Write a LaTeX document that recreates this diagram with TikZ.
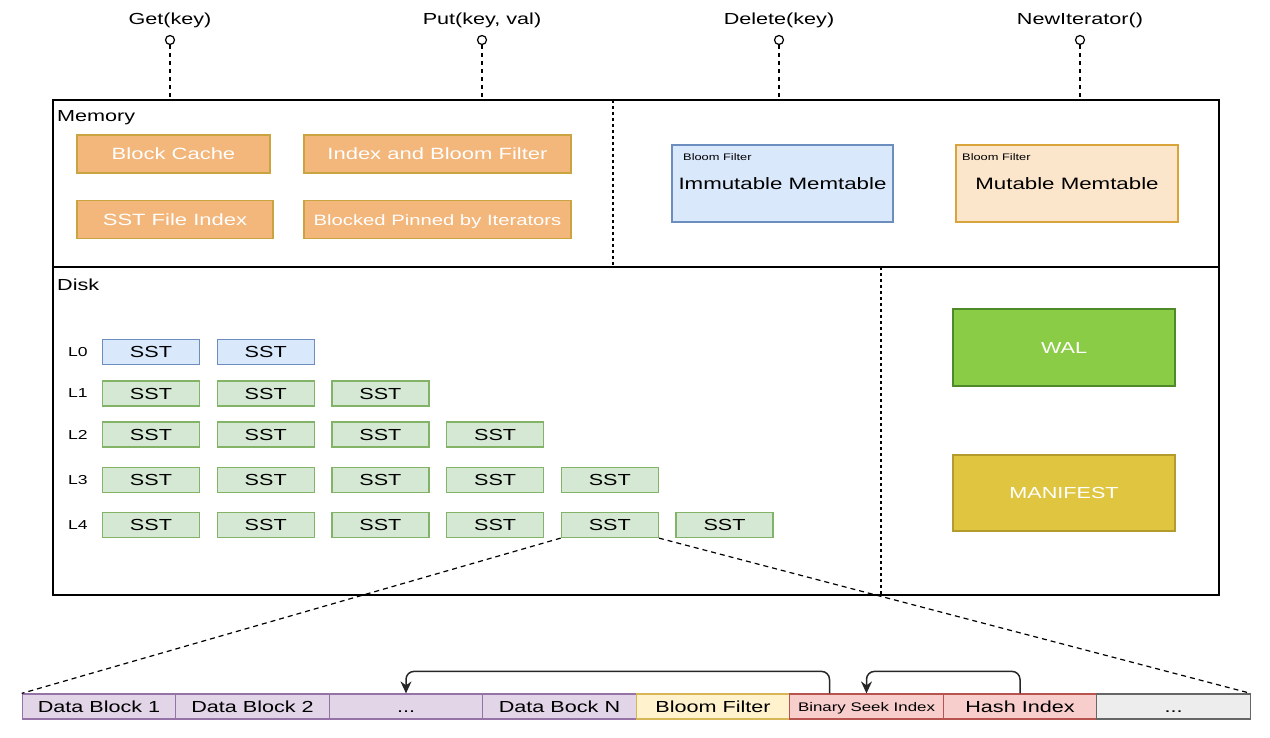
\documentclass[tikz,border=0pt]{standalone}
\usepackage{fontspec}
\setmainfont{Liberation Sans}[FakeStretch=1.35]
\usetikzlibrary{arrows.meta}
\definecolor{orfill}{HTML}{F3B67B}
\definecolor{ordraw}{HTML}{C9A441}
\definecolor{blfill}{HTML}{DAE8FC}
\definecolor{bldraw}{HTML}{6C8EBF}
\definecolor{mufill}{HTML}{FBE6CC}
\definecolor{mudraw}{HTML}{D9A43A}
\definecolor{grfill}{HTML}{D5E8D4}
\definecolor{grdraw}{HTML}{82B366}
\definecolor{walfill}{HTML}{8BCC47}
\definecolor{waldraw}{HTML}{4F8A2A}
\definecolor{mffill}{HTML}{E0C640}
\definecolor{mfdraw}{HTML}{B39B2E}
\definecolor{pufill}{HTML}{E1D5E7}
\definecolor{pudraw}{HTML}{9673A6}
\definecolor{yefill}{HTML}{FFF2CC}
\definecolor{yedraw}{HTML}{D6B656}
\definecolor{refill}{HTML}{F8CECC}
\definecolor{redraw}{HTML}{B85450}
\definecolor{gyfill}{HTML}{EDEDED}
\definecolor{gydraw}{HTML}{666666}
\tikzset{
  fs/.style={font=\fontsize{#1}{#1}\selectfont},
  bx/.style={draw, rectangle, inner sep=0pt, line width=1.2pt},
  orbox/.style={bx, fill=orfill, draw=ordraw, text=white, minimum height=38, text height=11.5, text depth=0},
  sstbox/.style={bx, fill=grfill, draw=grdraw, minimum width=97, minimum height=25, fs=16},
  sst0box/.style={sstbox, fill=blfill, draw=bldraw},
  cell/.style={bx, minimum width=153.5, minimum height=25, fs=16, text height=12, text depth=0},
  api/.style={fs=16, inner sep=0pt},
  port/.style={draw, circle, inner sep=0pt, minimum size=9, line width=1.2pt},
  apiline/.style={dash pattern=on 4pt off 4pt, line width=1.5pt},
  divline/.style={dash pattern=on 3pt off 3pt, line width=1.6pt},
  arr/.style={line width=1.5pt, draw=black!85, rounded corners=8, -{Stealth[length=12pt,width=11pt]}},
}

\begin{document}

\begin{tikzpicture}[x=1pt,y=-1pt]
\useasboundingbox (0,0) rectangle (1270,738);
% API
\foreach \n/\x/\t in {g/170/Get(key), p/482/{Put(key, val)}, d/779/Delete(key), i/1080/NewIterator()}{
  \node[api] (t\n) at (\x,20) {\t};
  \node[port] (c\n) at (\x,40) {};
}
% main box
\node[draw, rectangle, line width=1.6pt, minimum width=1166, minimum height=495, inner sep=0pt] (main) at (636,347.5) {};
\coordinate (ml) at (53,267);
\coordinate (mr) at (1219,267);
\draw[line width=1.6pt] (ml) -- (mr);
\foreach \n in {g,p,d,i}{\draw[apiline] (c\n.south) -- (c\n |- main.north);}
\coordinate (mdt) at (613,100);
\coordinate (mdb) at (613,267);
\draw[divline] (mdt) -- (mdb);
\coordinate (ddt) at (881,267);
\coordinate (ddb) at (881,595);
\draw[divline] (ddt) -- (ddb);
\node[fs=16, anchor=west, inner sep=0pt] (memlbl) at (57,118) {Memory};
\node[fs=16, anchor=west, inner sep=0pt] (disklbl) at (57,285) {Disk};
% memory boxes
\node[orbox, minimum width=193, fs=16.3] (bc) at (173.5,154) {Block Cache};
\node[orbox, minimum width=267, fs=16.3] (ibf) at (437.5,154) {Index and Bloom Filter};
\node[orbox, minimum width=196, fs=16.3] (sfi) at (175,219.5) {SST File Index};
\node[orbox, minimum width=267, fs=15] (bpi) at (437.5,219.5) {Blocked Pinned by Iterators};
\node[bx, fill=blfill, draw=bldraw, minimum width=221, minimum height=77, fs=16.5] (imm) at (782.5,183.5) {Immutable Memtable};
\node[fs=9.5, anchor=west, inner sep=0pt] (imbf) at (683,157) {Bloom Filter};
\node[bx, fill=mufill, draw=mudraw, minimum width=222, minimum height=77, fs=16.5] (mut) at (1067,183.5) {Mutable Memtable};
\node[fs=9.5, anchor=west, inner sep=0pt] (mubf) at (962,157) {Bloom Filter};
% WAL, MANIFEST
\node[bx, fill=walfill, draw=waldraw, minimum width=222, minimum height=77, text=white, fs=16] (wal) at (1064,347.5) {WAL};
\node[bx, fill=mffill, draw=mfdraw, minimum width=222, minimum height=76, text=white, fs=16] (mf) at (1064,493) {MANIFEST};
% levels
\foreach \r/\y/\k in {0/352/2, 1/393.5/3, 2/434.5/4, 3/480/5, 4/525/6}{
  \node[fs=13, inner sep=0pt] (L\r) at (78,\y) {L\r};
  \foreach \c in {1,...,\k}{
    \ifnum\r=0
      \node[sst0box] (s\r-\c) at ({151+(\c-1)*114.7},\y) {SST};
    \else
      \node[sstbox] (s\r-\c) at ({151+(\c-1)*114.7},\y) {SST};
    \fi
  }
}
% bottom strip
\node[cell, fill=pufill, draw=pudraw] (db1) at (99,706.5) {Data Block 1};
\node[cell, fill=pufill, draw=pudraw] (db2) at (252.5,706.5) {Data Block 2};
\node[cell, fill=pufill, draw=pudraw] (dbd) at (406,706.5) {...};
\node[cell, fill=pufill, draw=pudraw] (dbn) at (559.5,706.5) {Data Bock N};
\node[cell, fill=yefill, draw=yedraw] (bf) at (713,706.5) {Bloom Filter};
\node[cell, fill=refill, draw=redraw, fs=12.5, text height=9, text depth=0] (bsi) at (866.5,706.5) {Binary Seek Index};
\node[cell, fill=refill, draw=redraw] (hi) at (1020,706.5) {Hash Index};
\node[cell, fill=gyfill, draw=gydraw] (etc) at (1173.5,706.5) {...};
% zoom lines
\draw[dash pattern=on 5pt off 4pt, line width=1.2pt] (s4-5.south west) -- (db1.north west);
\draw[dash pattern=on 5pt off 4pt, line width=1.2pt] (s4-5.south east) -- (etc.north east);
% arrows
\draw[arr] ([xshift=-37]bsi.north) |- ([yshift=22]dbd.north) -- (dbd.north);
\draw[arr] (hi.north) |- ([yshift=22]bsi.north) -- (bsi.north);
\end{tikzpicture}

\end{document}
